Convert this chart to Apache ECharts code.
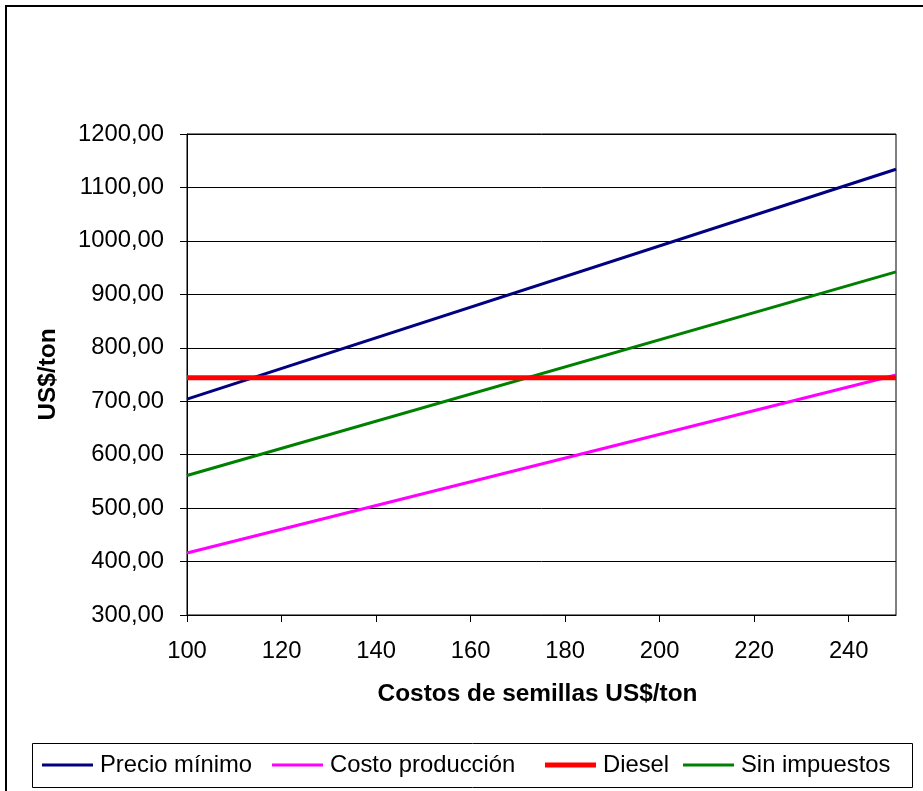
<!DOCTYPE html>
<html>
<head>
<meta charset="utf-8">
<script src="https://cdn.jsdelivr.net/npm/echarts@6/dist/echarts.min.js"></script>
<style>
  html, body { margin: 0; padding: 0; background: #fff; }
  #chart { width: 923px; height: 791px; }
</style>
</head>
<body>
<div id="chart"></div>
<script>
// Seed cost (US$/ton) on the horizontal axis
const seedCost = [100, 250];
// Break-even and reference prices (US$/ton)
const precioMinimo = [704, 1134];
const costoProduccion = [416, 749];
const diesel = [744, 744];
const sinImpuestos = [561, 942];

const xTicks = [100, 120, 140, 160, 180, 200, 220, 240];
const yTicks = [300, 400, 500, 600, 700, 800, 900, 1000, 1100, 1200];

const seriesNames = ['Precio mínimo', 'Costo producción', 'Diesel', 'Sin impuestos'];
const seriesColors = ['#000080', '#FF00FF', '#FF0000', '#008000'];
const seriesWidths = [3, 3, 5, 3];
const seriesValues = [precioMinimo, costoProduccion, diesel, sinImpuestos];

const FONT = "'Liberation Sans', Arial, sans-serif";
const LABEL_SIZE = 23.8;

const pairs = vals => seedCost.map((x, i) => [x, vals[i]]);

const legendLeft = [42, 272, 545, 683];

const chart = echarts.init(document.getElementById('chart'), null, { renderer: 'canvas' });

chart.setOption({
  animation: false,
  backgroundColor: '#fff',
  textStyle: { fontFamily: FONT },
  grid: { left: 187, top: 134, width: 709, height: 481, show: true, borderColor: '#000', borderWidth: 1 },
  xAxis: {
    type: 'value',
    min: 100, max: 250, interval: 20,
    name: 'Costos de semillas US$/ton',
    nameLocation: 'middle',
    nameGap: 67,
    nameTextStyle: { fontFamily: FONT, fontSize: 24.4, fontWeight: 'bold', color: '#000', padding: [0, 8, 0, 0] },
    axisLine: { show: true, lineStyle: { color: '#000', width: 1 } },
    axisTick: { show: true, length: 7, customValues: xTicks, lineStyle: { color: '#000' } },
    axisLabel: { customValues: xTicks, fontFamily: FONT, fontSize: LABEL_SIZE, color: '#000', margin: 24 },
    splitLine: { show: false }
  },
  yAxis: {
    type: 'value',
    min: 300, max: 1200, interval: 100,
    name: 'US$/ton',
    nameLocation: 'middle',
    nameGap: 127,
    nameRotate: 90,
    nameTextStyle: { fontFamily: FONT, fontSize: 24.4, fontWeight: 'bold', color: '#000' },
    axisLine: { show: true, lineStyle: { color: '#000', width: 1 } },
    axisTick: { show: true, length: 7, customValues: yTicks, lineStyle: { color: '#000' } },
    axisLabel: {
      customValues: yTicks,
      fontFamily: FONT, fontSize: LABEL_SIZE, color: '#000', margin: 23,
      formatter: v => v.toFixed(2).replace('.', ',')
    },
    splitLine: { show: true, lineStyle: { color: '#000', width: 1 } }
  },
  legend: seriesNames.map((name, i) => ({
    data: [{ name, icon: 'rect' }],
    left: legendLeft[i],
    top: 752,
    padding: 0,
    itemWidth: 51,
    itemHeight: seriesWidths[i],
    selectedMode: false,
    textStyle: { fontFamily: FONT, fontSize: LABEL_SIZE, color: '#000', lineHeight: 26, padding: [0, 0, 0, 2] }
  })),
  graphic: [
    {
      type: 'rect', silent: true, z: -1,
      shape: { x: 6, y: 6, width: 940, height: 800 },
      style: { fill: 'none', stroke: '#000', lineWidth: 2 }
    },
    {
      type: 'rect', silent: true,
      shape: { x: 32.5, y: 743.5, width: 880, height: 44 },
      style: { fill: 'none', stroke: '#000', lineWidth: 1 }
    }
  ],
  series: seriesNames.map((name, i) => ({
    name,
    type: 'line',
    data: pairs(seriesValues[i]),
    showSymbol: false,
    symbol: 'none',
    color: seriesColors[i],
    lineStyle: { color: seriesColors[i], width: seriesWidths[i] },
    z: i === 2 ? 3 : 2
  }))
});
</script>
</body>
</html>
